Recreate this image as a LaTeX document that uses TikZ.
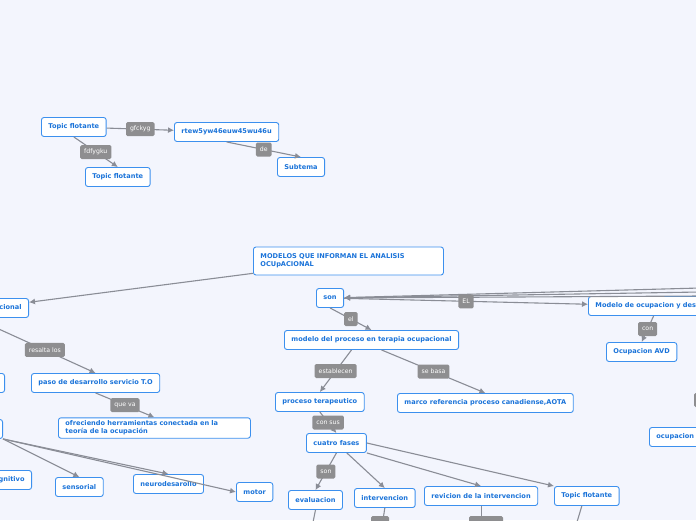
\documentclass[tikz,border=0pt]{standalone}
\usepackage{fontspec}
\setmainfont{DejaVu Sans}
\usetikzlibrary{arrows.meta}
\definecolor{bgblue}{HTML}{F3F5FD}
\definecolor{topicblue}{HTML}{1A73D9}
\definecolor{edgeblue}{HTML}{3C90EE}
\definecolor{linegray}{HTML}{8A8D96}
\definecolor{labgray}{HTML}{8E8E90}
\tikzset{
  topic/.style={draw=edgeblue, fill=white, rounded corners=2.5pt, line width=0.9pt,
    text=topicblue, font=\fontsize{6.6}{8}\selectfont\bfseries, inner xsep=7pt, inner ysep=3pt, minimum height=19pt, anchor=west, align=left},
  lab/.style={fill=labgray, text=white, rounded corners=1.5pt, font=\fontsize{6.2}{7}\selectfont, inner xsep=4pt, inner ysep=2.5pt, minimum height=14pt},
  link/.style={draw=linegray, line width=1.1pt, -{Latex[length=6pt,width=6pt]}},
}
\begin{document}
\begin{tikzpicture}[x=1pt,y=-1pt]
	\fill[bgblue] (0,0) rectangle (696,520);
	\useasboundingbox (0,0) rectangle (696,520);
	\clip (0,0) rectangle (696,520);
	% floating cluster
	\node[topic] (tf1) at (41,127) {Topic flotante};
	\node[topic] (rtew) at (174,132) {rtew5yw46euw45wu46u};
	\node[topic] (sub) at (277,167) {Subtema};
	\node[topic] (tf2) at (85,177) {Topic flotante};
	\draw[link] (tf1) -- node[lab] {gfckyg} (rtew);
	\draw[link] (tf1.south) -- node[lab,pos=0.5] {fdfygku} (tf2.north);
	\draw[link] (rtew.south) -- node[lab] {de} (sub.north);
	% main map
	\node[topic, minimum height=28pt, text width=176pt] (mod) at (253,261) {MODELOS QUE INFORMAN EL ANALISIS\\OCUpACIONAL};
	\node[topic, anchor=east] (ocup) at (29,308) {Modelo ocupacional};
	\node[topic] (son) at (316,298) {son};
	\node[topic] (moh) at (588,306) {Modelo de ocupacion y desempe\~no};
	\node[topic] (avd) at (606,352) {Ocupacion AVD};
	\node[topic] (ocup2) at (649,437) {ocupacion};
	\node[topic] (mpto) at (284,340) {modelo del proceso en terapia ocupacional};
	\node[topic] (paso) at (31,383) {paso de desarrollo servicio T.O};
	\node[topic, anchor=east] (lft1) at (5,383) {x};
	\node[topic, text width=178pt] (ofr) at (58,428) {ofreciendo herramientas conectada en la\\teor\'ia de la ocupaci\'on};
	\node[topic, anchor=east] (lft2) at (3,429) {x};
	\node[topic, anchor=east] (cog) at (32,480) {cognitivo};
	\node[topic] (sen) at (55,487) {sensorial};
	\node[topic] (neu) at (133,484) {neurodesarollo};
	\node[topic] (mot) at (236,492) {motor};
	\node[topic] (proc) at (275,402) {proceso terapeutico};
	\node[topic] (marco) at (397,403) {marco referencia proceso canadiense,AOTA};
	\node[topic] (fases) at (306,443) {cuatro fases};
	\node[topic] (eval) at (288,500) {evaluacion};
	\node[topic] (int) at (354,498) {intervencion};
	\node[topic] (rev) at (424,496) {revicion de la intervencion};
	\node[topic] (tf3) at (554,496) {Topic flotante};
	\coordinate (east1) at (700,288);
	\coordinate (east2) at (700,292);
	\coordinate (east3) at (700,296);
	\draw[link] (mod) -- (ocup);
	\draw[link] (east1) -- (son);
	\draw[link] (east2) -- (son);
	\draw[link] (east3) -- (son);
	\draw[link] (son) -- node[lab] {EL} (moh);
	\draw[link] (moh.south -| avd.north) ++(12,0) -- node[lab] {con} (avd.north);
	\draw[link] (son.south) -- node[lab] {el} (mpto.north);
	\draw[link] (-10,325) -- node[lab,pos=0.52] {resalta los} (paso.north);
	\draw[link] (paso.south) -- node[lab] {que va} (ofr.north);
	\draw[link] (lft2.south east) -- (sen.north);
	\draw[link] (lft2.south east) -- (neu.north);
	\draw[link] (lft2.south east) -- (mot.west);
	\draw[link] (mpto.south) ++(-20,0) -- node[lab] {establecen} (proc.north);
	\draw[link] (mpto.south) ++(10,0) -- node[lab] {se basa} (marco.north);
	\draw[link] (proc.south) -- node[lab] {con sus} (fases.north);
	\draw[link] (fases.south) -- node[lab] {son} (eval.north);
	\draw[link] (fases.south east) ++(-20,0) -- (int.north);
	\draw[link] (fases.south east) -- (rev.north);
	\draw[link] (fases.east) -- (tf3.north west);
	\draw[draw=linegray, line width=1.1pt] (eval.south) -- ++(-4,20);
	\draw[draw=linegray, line width=1.1pt] (int.south) -- ++(-3,20);
	\draw[draw=linegray, line width=1.1pt] (rev.south) -- ++(0,20);
	\draw[draw=linegray, line width=1.1pt] (tf3.south) ++(-5,0) -- ++(-6,20);
	\node[lab, minimum width=18pt] at (380,523) {};
	\node[lab, minimum width=34pt] at (486,523) {};
	\node[lab, minimum width=12pt] at (700,400) {};
\end{tikzpicture}
\end{document}
